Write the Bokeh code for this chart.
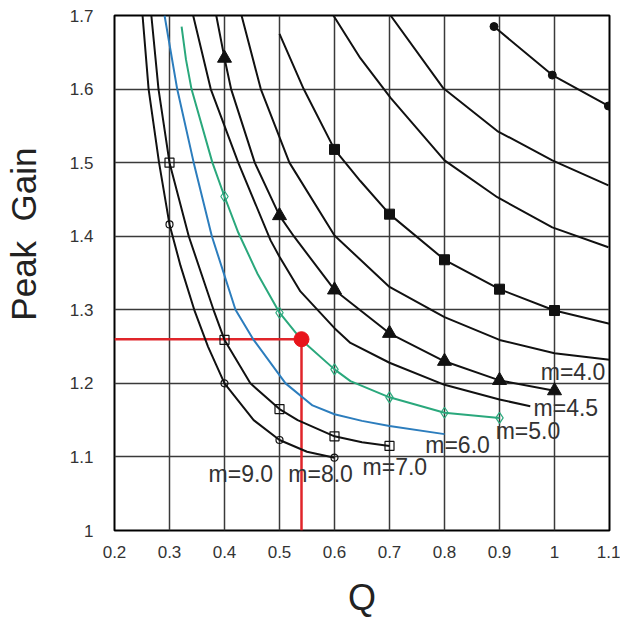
from bokeh.plotting import figure
from bokeh.models import Range1d, FixedTicker
from bokeh.core.properties import value
from bokeh.embed import file_html
from bokeh.resources import INLINE

# ---------------- data ----------------
x_ticks = [0.2, 0.3, 0.4, 0.5, 0.6, 0.7, 0.8, 0.9, 1.0, 1.1]
x_tick_labels = ["0.2", "0.3", "0.4", "0.5", "0.6", "0.7", "0.8", "0.9", "1", "1.1"]
y_ticks = [1.0, 1.1, 1.2, 1.3, 1.4, 1.5, 1.6, 1.7]
y_tick_labels = ["1", "1.1", "1.2", "1.3", "1.4", "1.5", "1.6", "1.7"]

# leftmost black curve (open circles)
c9_q = [0.251, 0.262, 0.281, 0.3, 0.32, 0.345, 0.37, 0.4, 0.453, 0.5, 0.55, 0.6]
c9_g = [1.7, 1.6, 1.5, 1.416, 1.36, 1.3, 1.25, 1.2, 1.15, 1.123, 1.107, 1.099]
c9_mq = [0.3, 0.4, 0.5, 0.6]
c9_mg = [1.416, 1.2, 1.123, 1.099]

# black curve with small open squares
c8_q = [0.267, 0.28, 0.3, 0.335, 0.38, 0.4, 0.447, 0.5, 0.533, 0.6, 0.65, 0.7]
c8_g = [1.7, 1.6, 1.5, 1.4, 1.3, 1.259, 1.2, 1.165, 1.15, 1.128, 1.12, 1.115]
c8_mq = [0.3, 0.4, 0.5, 0.6, 0.7]
c8_mg = [1.5, 1.259, 1.165, 1.128, 1.115]

# blue curve (m=6.0)
c6_q = [0.291, 0.314, 0.344, 0.377, 0.42, 0.453, 0.511, 0.56, 0.6, 0.65, 0.7, 0.8]
c6_g = [1.7, 1.6, 1.5, 1.4, 1.3, 1.259, 1.2, 1.17, 1.158, 1.149, 1.142, 1.131]

# green curve (m=5.0, open diamonds)
c5_q = [0.322, 0.33, 0.34, 0.378, 0.4, 0.425, 0.46, 0.5, 0.54, 0.6, 0.629, 0.7, 0.8, 0.9]
c5_g = [1.685, 1.64, 1.6, 1.5, 1.454, 1.405, 1.349, 1.296, 1.259, 1.219, 1.203, 1.181, 1.16, 1.153]
c5_mq = [0.4, 0.5, 0.6, 0.7, 0.8, 0.9]
c5_mg = [1.454, 1.296, 1.219, 1.181, 1.16, 1.153]

# black curve without markers ending at the m=4.5 label
c45_q = [0.343, 0.375, 0.425, 0.484, 0.5, 0.538, 0.6, 0.629, 0.7, 0.8, 0.9, 0.956]
c45_g = [1.7, 1.6, 1.5, 1.394, 1.372, 1.325, 1.275, 1.255, 1.228, 1.198, 1.178, 1.169]

# black curve with filled triangles
c4_q = [0.385, 0.4, 0.412, 0.455, 0.5, 0.526, 0.6, 0.7, 0.8, 0.9, 1.0]
c4_g = [1.7, 1.642, 1.6, 1.5, 1.428, 1.4, 1.327, 1.268, 1.23, 1.204, 1.19]
c4_mq = [0.4, 0.5, 0.6, 0.7, 0.8, 0.9, 1.0]
c4_mg = [1.642, 1.428, 1.327, 1.268, 1.23, 1.204, 1.19]

# black curve without markers reaching the right edge at ~1.23
c35_q = [0.431, 0.466, 0.518, 0.6, 0.7, 0.8, 0.9, 1.0, 1.1]
c35_g = [1.7, 1.6, 1.5, 1.401, 1.331, 1.29, 1.259, 1.241, 1.232]

# black curve with filled squares
c3_q = [0.5, 0.544, 0.6, 0.647, 0.7, 0.8, 0.9, 1.0, 1.1]
c3_g = [1.675, 1.6, 1.518, 1.475, 1.43, 1.368, 1.328, 1.299, 1.281]
c3_mq = [0.6, 0.7, 0.8, 0.9, 1.0]
c3_mg = [1.518, 1.43, 1.368, 1.328, 1.299]

# upper black curves without markers
c25_q = [0.598, 0.647, 0.702, 0.8, 0.896, 0.996, 1.098]
c25_g = [1.7, 1.642, 1.588, 1.503, 1.453, 1.412, 1.385]
c2_q = [0.702, 0.798, 0.896, 0.996, 1.098]
c2_g = [1.7, 1.601, 1.543, 1.503, 1.469]

# top-right curve with filled dots
c1_q = [0.89, 0.996, 1.098]
c1_g = [1.685, 1.619, 1.577]

# operating point
op_q = 0.54
op_g = 1.26

# curve labels
lab_text = ["m=9.0", "m=8.0", "m=7.0", "m=6.0", "m=5.0", "m=4.5", "m=4.0"]
lab_q = [0.371, 0.516, 0.651, 0.765, 0.893, 0.962, 0.975]
lab_g = [1.077, 1.077, 1.0865, 1.116, 1.135, 1.166, 1.215]

# ---------------- figure ----------------
FONT = "Liberation Sans"
p = figure(width=620, height=620, output_backend="svg", toolbar_location=None,
           x_range=Range1d(0.2, 1.1), y_range=Range1d(1.0, 1.7),
           min_border_left=114, min_border_right=11, min_border_top=15,
           min_border_bottom=85)
p.background_fill_color = "white"
p.border_fill_color = "white"
p.outline_line_color = "black"
p.outline_line_width = 2

p.xaxis.ticker = FixedTicker(ticks=x_ticks)
p.yaxis.ticker = FixedTicker(ticks=y_ticks)
p.xaxis.major_label_overrides = dict(zip(x_ticks, x_tick_labels))
p.yaxis.major_label_overrides = dict(zip(y_ticks, y_tick_labels))
for ax in (p.xaxis[0], p.yaxis[0]):
    ax.axis_line_color = None
    ax.major_tick_line_color = None
    ax.minor_tick_line_color = None
    ax.major_label_text_font = FONT
    ax.major_label_text_font_size = "17px"
    ax.major_label_text_color = "#333333"
    ax.axis_label_text_font = FONT
    ax.axis_label_text_font_style = "normal"
    ax.axis_label_text_color = "#222222"
p.xaxis.major_label_standoff = 9
p.yaxis.major_label_standoff = 15

p.xaxis.axis_label = "Q"
p.xaxis.axis_label_text_font_size = "36px"
p.xaxis.axis_label_standoff = 16
# leading no-break spaces shift the rotated title upward, as in the reference
p.yaxis.axis_label = "\u00a0" * 8 + "Peak \u00a0Gain"
p.yaxis.axis_label_text_font_size = "35px"
p.yaxis.axis_label_standoff = 24

p.xgrid.grid_line_color = "#3a3a3a"
p.ygrid.grid_line_color = "#3a3a3a"
p.xgrid.grid_line_width = 1.5
p.ygrid.grid_line_width = 1.5

BLACK = "#111111"
BLUE = "#2c7dbd"
GREEN = "#2aa87c"
LW = 2

# operating-point guide lines (behind curves)
p.line([0.2, op_q], [op_g, op_g], line_color="#e0252a", line_width=2.5)
p.line([op_q, op_q], [1.0, op_g], line_color="#e0252a", line_width=2.5)

for qs, gs, col in [(c9_q, c9_g, BLACK), (c8_q, c8_g, BLACK), (c6_q, c6_g, BLUE),
                    (c5_q, c5_g, GREEN), (c45_q, c45_g, BLACK), (c4_q, c4_g, BLACK),
                    (c35_q, c35_g, BLACK), (c3_q, c3_g, BLACK), (c25_q, c25_g, BLACK),
                    (c2_q, c2_g, BLACK), (c1_q, c1_g, BLACK)]:
    p.line(qs, gs, line_color=col, line_width=LW)

p.scatter(c9_mq, c9_mg, marker="circle", size=7, line_color=BLACK, fill_color=None, line_width=1.2)
p.scatter(c8_mq, c8_mg, marker="square", size=9, line_color=BLACK, fill_color=None, line_width=1.2)
p.scatter(c5_mq, c5_mg, marker="diamond", size=11, line_color=GREEN, fill_color=None, line_width=1.2)
p.scatter(c4_mq, c4_mg, marker="triangle", size=14, line_color=BLACK, fill_color=BLACK)
p.scatter(c3_mq, c3_mg, marker="square", size=10, line_color=BLACK, fill_color=BLACK)
p.scatter(c1_q, c1_g, marker="circle", size=8, line_color=BLACK, fill_color=BLACK)
p.scatter([op_q], [op_g], marker="circle", size=15, line_color="#e8141b", fill_color="#e8141b")

p.text(lab_q, lab_g, text=lab_text, text_font=value(FONT), text_font_size="23px",
       text_color="#333333", text_align="left", text_baseline="middle")

open("out.html", "w").write(file_html(p, INLINE))
